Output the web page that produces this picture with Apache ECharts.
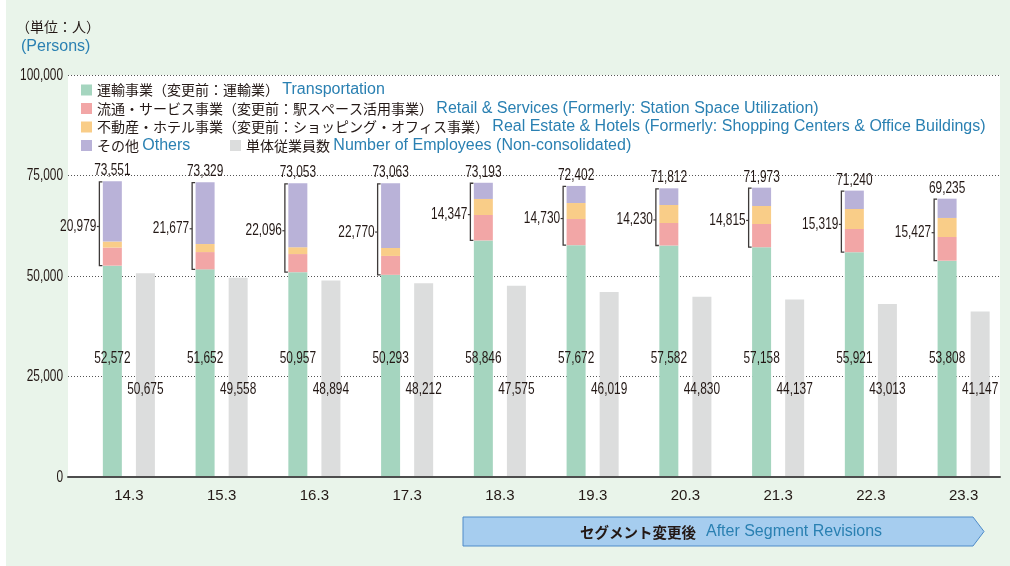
<!DOCTYPE html>
<html>
<head>
<meta charset="utf-8">
<script src="https://cdn.jsdelivr.net/npm/echarts@6/dist/echarts.min.js"></script>
<style>
  html, body { margin: 0; padding: 0; background: #fff; }
  #main { width: 1010px; height: 566px; }
</style>
</head>
<body>
<div id="main"></div>
<script>
// 年度（3月期）
const categories = ['14.3', '15.3', '16.3', '17.3', '18.3', '19.3', '20.3', '21.3', '22.3', '23.3'];
// 運輸事業
const transport = [52572, 51652, 50957, 50293, 58846, 57672, 57582, 57158, 55921, 53808];
// 流通・サービス事業
const retail = [4500, 4300, 4500, 4700, 6330, 6500, 5600, 5780, 5770, 5900];
// 不動産・ホテル事業
const realEstate = [1500, 2000, 1700, 2000, 3990, 3980, 4480, 4480, 4970, 4730];
// その他
const others = [14979, 15377, 15896, 16070, 4027, 4250, 4150, 4555, 4579, 4797];
// 連結合計
const totals = [73551, 73329, 73053, 73063, 73193, 72402, 71812, 71973, 71240, 69235];
// 運輸以外の合計（括弧の数値）
const nonTransport = [20979, 21677, 22096, 22770, 14347, 14730, 14230, 14815, 15319, 15427];
// 単体従業員数
const employees = [50675, 49558, 48894, 48212, 47575, 46019, 44830, 44137, 43013, 41147];
// 縦軸目盛
const yTicks = [0, 25000, 50000, 75000, 100000];

const INK = '#231815';
const BLUE = '#2a80b2';
const JP_FONT = "'Noto Sans CJK JP', sans-serif";
const EN_FONT = "'Liberation Sans', Arial, sans-serif";
const NUM_SCALE = 0.72; // no condensed font here, so squeeze Liberation Sans

const fmt = v => Number(v).toLocaleString('en-US');

// condensed-looking number text for custom series
function numText(x, y, text, align, vAlign) {
  return {
    type: 'text',
    x: x,
    y: y,
    scaleX: NUM_SCALE,
    style: {text: text, align: align, verticalAlign: vAlign, fontFamily: EN_FONT, fontSize: 16.5, fill: INK}
  };
}

const names = {
  transport: '運輸事業（変更前：運輸業）',
  retail: '流通・サービス事業（変更前：駅スペース活用事業）',
  realEstate: '不動産・ホテル事業（変更前：ショッピング・オフィス事業）',
  others: 'その他',
  employees: '単体従業員数'
};
const enNames = {};
enNames[names.transport] = 'Transportation';
enNames[names.retail] = 'Retail & Services (Formerly: Station Space Utilization)';
enNames[names.realEstate] = 'Real Estate & Hotels (Formerly: Shopping Centers & Office Buildings)';
enNames[names.others] = 'Others';
enNames[names.employees] = 'Number of Employees (Non-consolidated)';

function legendAt(name, left, centerY) {
  return {
    data: [{name: name, icon: 'rect'}],
    left: left,
    top: centerY - 9,
    padding: 0,
    itemWidth: 11,
    itemHeight: 11,
    selectedMode: false,
    formatter: n => '{jp|' + n + '} {en|' + enNames[n] + '}',
    textStyle: {
      rich: {
        jp: {fontFamily: JP_FONT, fontSize: 14, color: INK, lineHeight: 18},
        en: {fontFamily: EN_FONT, fontSize: 16, color: BLUE, lineHeight: 18}
      }
    }
  };
}

// bracket + totals + fixed-height value labels
function renderLabels(params, api) {
  const i = api.value(0);
  const base = api.coord([i, 0]);
  const cx = base[0];
  const yTop = api.coord([i, api.value(2)])[1];
  const yBot = api.coord([i, api.value(1)])[1];
  const bx = cx - 29.5;
  const ym = (yTop + yBot) / 2 + 3;
  return {
    type: 'group',
    children: [
      {
        type: 'polyline',
        shape: {points: [[bx + 3, yTop + 0.5], [bx, yTop + 0.5], [bx, yBot], [bx + 3, yBot]]},
        style: {stroke: '#3e3a39', lineWidth: 1.3, fill: null}
      },
      {
        type: 'line',
        shape: {x1: bx - 2.5, y1: ym, x2: bx, y2: ym},
        style: {stroke: '#3e3a39', lineWidth: 1.2}
      },
      numText(bx - 3, ym, fmt(api.value(3)), 'right', 'middle'),
      numText(cx - 16.5, yTop - 2, fmt(api.value(2)), 'center', 'bottom'),
      numText(cx - 16.5, base[1] - 119, fmt(api.value(1)), 'center', 'middle'),
      numText(cx + 16.5, base[1] - 88, fmt(api.value(4)), 'center', 'middle')
    ]
  };
}

function renderYLabel(params, api) {
  const p = api.coord([0, api.value(1)]);
  return numText(p[0] - 5, p[1], fmt(api.value(1)), 'right', 'middle');
}

const chart = echarts.init(document.getElementById('main'));

const barBase = {
  type: 'bar',
  xAxisIndex: 1,
  yAxisIndex: 1,
  barWidth: 19,
  barGap: '74%'
};

const option = {
  backgroundColor: '#e9f4ea',
  animation: false,
  graphic: [
    {type: 'rect', left: 0, top: 0, shape: {width: 6, height: 566}, style: {fill: '#fff'}},
    {type: 'text', left: 16, top: 20, style: {text: '（単位：人）', fontFamily: JP_FONT, fontSize: 14, fill: INK}},
    {type: 'text', left: 21, top: 39, style: {text: '(Persons)', fontFamily: EN_FONT, fontSize: 16, fill: BLUE}},
    {
      type: 'polygon',
      shape: {points: [[463, 517], [973, 517], [984, 531.5], [973, 546], [463, 546]]},
      style: {fill: '#a6cdef', stroke: '#4f8bc9', lineWidth: 1}
    },
    {
      type: 'text',
      x: 731,
      y: 532,
      style: {
        text: '{jp|セグメント変更後}   {en|After Segment Revisions}',
        align: 'center',
        verticalAlign: 'middle',
        rich: {
          jp: {fontFamily: JP_FONT, fontSize: 14.5, fontWeight: 'bold', fill: INK},
          en: {fontFamily: EN_FONT, fontSize: 16, fill: BLUE}
        }
      }
    }
  ],
  legend: [
    legendAt(names.transport, 81, 91),
    legendAt(names.retail, 81, 109.5),
    legendAt(names.realEstate, 81, 128),
    legendAt(names.others, 81, 146.5),
    legendAt(names.employees, 230, 146.5)
  ],
  grid: [
    {left: 68, right: 10, top: 75, bottom: 89, show: true, backgroundColor: '#fff', borderWidth: 0},
    {left: 82.5, width: 929, top: 75, bottom: 89}
  ],
  xAxis: [
    {
      type: 'value', gridIndex: 0, min: 0, max: 1, z: 5,
      axisLine: {show: true, lineStyle: {color: '#4d4d4d', width: 2}},
      axisTick: {show: false}, axisLabel: {show: false}, splitLine: {show: false}
    },
    {
      type: 'category', gridIndex: 1, data: categories,
      axisLine: {show: false}, axisTick: {show: false},
      axisLabel: {margin: 11, fontFamily: EN_FONT, fontSize: 15, color: INK}
    }
  ],
  yAxis: [
    {
      type: 'value', gridIndex: 0, min: 0, max: 100000, interval: 25000,
      axisLine: {show: false}, axisTick: {show: false}, axisLabel: {show: false},
      splitLine: {show: true, lineStyle: {color: '#555', width: 1, type: [1, 2]}}
    },
    {type: 'value', gridIndex: 1, min: 0, max: 100000, show: false}
  ],
  series: [
    Object.assign({}, barBase, {name: names.transport, stack: 'seg', data: transport, itemStyle: {color: '#a5d5bf'}}),
    Object.assign({}, barBase, {name: names.retail, stack: 'seg', data: retail, itemStyle: {color: '#f2a6a6'}}),
    Object.assign({}, barBase, {name: names.realEstate, stack: 'seg', data: realEstate, itemStyle: {color: '#f9cd88'}}),
    Object.assign({}, barBase, {name: names.others, stack: 'seg', data: others, itemStyle: {color: '#b9b2d8'}}),
    Object.assign({}, barBase, {name: names.employees, data: employees, itemStyle: {color: '#dcdddd'}}),
    {
      type: 'custom',
      name: 'labels',
      xAxisIndex: 1,
      yAxisIndex: 1,
      z: 4,
      renderItem: renderLabels,
      data: categories.map((c, i) => [i, transport[i], totals[i], nonTransport[i], employees[i]])
    },
    {
      type: 'custom',
      name: 'yLabels',
      xAxisIndex: 0,
      yAxisIndex: 0,
      z: 4,
      renderItem: renderYLabel,
      data: yTicks.map(v => [0, v])
    }
  ]
};

option && chart.setOption(option);
</script>
</body>
</html>
